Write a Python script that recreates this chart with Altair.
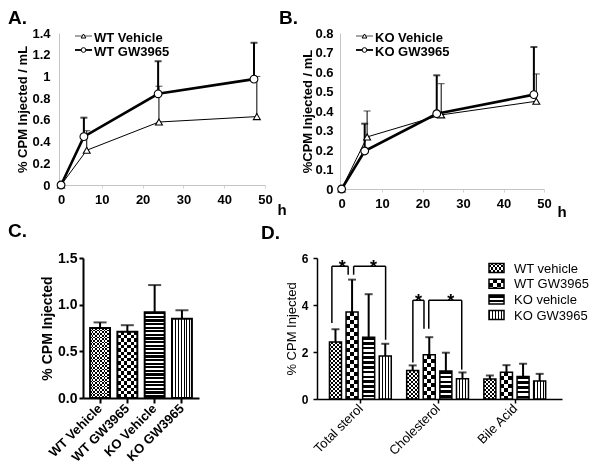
import json
import altair as alt
import pandas as pd

FONT = "Liberation Sans"

# ---------------- data ----------------
x_hours_ticks = [0, 10, 20, 30, 40, 50]

# Panel A (WT)
a_series = ["WT Vehicle", "WT GW3965"]
a_veh_time = [0, 6.3, 24.0, 48.0]
a_veh_mean = [0, 0.32, 0.58, 0.63]
a_veh_top = [0, 0.50, 0.91, 1.00]
a_gw_time = [0, 5.6, 23.8, 47.3]
a_gw_mean = [0, 0.445, 0.84, 0.975]
a_gw_top = [0, 0.62, 1.14, 1.31]
a_yticks = [0, 0.2, 0.4, 0.6, 0.8, 1.0, 1.2, 1.4]

# Panel B (KO)
b_series = ["KO Vehicle", "KO GW3965"]
b_veh_time = [0, 6.3, 24.6, 48.1]
b_veh_mean = [0, 0.267, 0.38, 0.45]
b_veh_top = [0, 0.40, 0.54, 0.59]
b_gw_time = [0, 5.7, 23.5, 47.5]
b_gw_mean = [0, 0.195, 0.386, 0.484]
b_gw_top = [0, 0.335, 0.583, 0.728]
b_yticks = [0, 0.1, 0.2, 0.3, 0.4, 0.5, 0.6, 0.7, 0.8]

# Panel C
c_groups = ["WT Vehicle", "WT GW3965", "KO Vehicle", "KO GW3965"]
c_mean = [0.75, 0.71, 0.92, 0.85]
c_top = [0.81, 0.78, 1.21, 0.94]
c_yticks = [0, 0.5, 1.0, 1.5]

# Panel D
d_categories = ["Total sterol", "Cholesterol", "Bile Acid"]
d_series = ["WT vehicle", "WT GW3965", "KO vehicle", "KO GW3965"]
d_total_mean = [2.43, 3.70, 2.63, 1.83]
d_total_top = [2.97, 5.08, 4.46, 2.35]
d_chol_mean = [1.21, 1.88, 1.19, 0.86]
d_chol_top = [1.43, 2.63, 1.97, 1.13]
d_bile_mean = [0.85, 1.14, 0.96, 0.77]
d_bile_top = [1.00, 1.44, 1.50, 1.07]
d_yticks = [0, 2, 4, 6]

# significance brackets in panel D (x in category units, y in % CPM)
br_x1 = [-0.369, -0.087, 0.680, 0.886]
br_x2 = [-0.158, 0.327, 0.824, 1.313]
br_top = [5.65, 5.65, 4.20, 4.20]
br_left_bottom = [3.23, 5.29, 1.55, 2.99]
br_right_bottom = [5.29, 2.52, 2.99, 1.25]
br_star_x = [-0.235, 0.17, 0.752, 1.17]
br_label = ["*", "*", "*", "*"]

panel_letters = ["A.", "B.", "C.", "D."]


# ---------------- helpers ----------------
def stripe_gradient(size_px, period_px, dark_frac, horizontal, dark="black", light="white"):
    p = period_px / max(size_px, 0.001)
    stops = []
    start = 0.0
    while start < 1.0 - 1e-9:
        mid = min(start + p * dark_frac, 1.0)
        end = min(start + p, 1.0)
        stops += [(start, dark), (mid, dark)]
        if mid < 1.0:
            stops += [(mid, light), (end, light)]
        start = end
    return alt.Gradient(
        gradient="linear",
        stops=[alt.GradientStop(offset=round(o, 5), color=c) for o, c in stops],
        x1=0, y1=0,
        x2=0 if horizontal else 1,
        y2=1 if horizontal else 0,
    )


def pattern_fills(w_px, h_px, spec):
    """Return list of (fill, blend) to stack for one bar."""
    kind = spec[0]
    if kind == "checker":
        cell = spec[1]
        base = stripe_gradient(w_px, 2 * cell, 0.5, False)
        over = stripe_gradient(h_px, 2 * cell, 0.5, True, dark="white", light="black")
        return [(base, None), (over, "difference")]
    if kind == "h":
        return [(stripe_gradient(h_px, spec[1], spec[2], True), None)]
    return [(stripe_gradient(w_px, spec[1], spec[2], False), None)]


def letter_layer(letter, dx, dy):
    return alt.Chart(pd.DataFrame({"letter": [letter]})).mark_text(
        align="left", baseline="alphabetic", font=FONT, fontSize=19,
        fontWeight="bold", color="black"
    ).encode(x=alt.value(dx), y=alt.value(dy), text="letter:N")


def line_panel(letters, series, times, means, tops, ymax, yticks, ytitle,
               width, height, xmin, ytitle_x, ylab_pad, h_x, h_y):
    rows = []
    for s, t, m, tp in zip(series, times, means, tops):
        for i in range(len(t)):
            rows.append({"series": s, "time": t[i], "mean": m[i], "top": tp[i]})
    df = pd.DataFrame(rows)

    xaxis = alt.Axis(values=x_hours_ticks, title="h", titleX=h_x, titleY=h_y,
                     titleAlign="left", titleBaseline="alphabetic", titleFontSize=15,
                     titleFontWeight="bold", labelFontSize=13, labelFontWeight="bold",
                     labelPadding=5, tickSize=3, tickColor="#d4d4d4",
                     domainColor="#c4c4c4", labelFlush=False, labelOverlap=False)
    yaxis = alt.Axis(values=yticks, format=".1~f", title=ytitle, titleX=ytitle_x,
                     titleY=height / 2, titleBaseline="middle", titleFontSize=13,
                     titleFontWeight="bold", labelFontSize=13, labelFontWeight="bold",
                     tickSize=0, labelPadding=ylab_pad, domainColor="#c4c4c4",
                     labelOverlap=False)
    xs = alt.Scale(domain=[xmin, 50], nice=False, zero=False)
    ys = alt.Scale(domain=[0, ymax], nice=False)
    X = alt.X("time:Q", scale=xs, axis=xaxis)
    Y = alt.Y("mean:Q", scale=ys, axis=yaxis)
    Ytop = alt.Y("top:Q", scale=ys, axis=yaxis)

    styles = {series[0]: dict(sw=1.0, shape="triangle-up", size=48, esw=1.0),
              series[1]: dict(sw=2.6, shape="circle", size=60, esw=2.0)}
    errs, lines, pts, legend = [], [], [], []
    base_all = alt.Chart(df)
    for k, s in enumerate(series):
        st = styles[s]
        b = base_all.transform_filter(alt.datum.series == s)
        be = b.transform_filter("datum.top > datum.mean")
        errs.append(be.mark_rule(color="black", strokeWidth=st["esw"]).encode(
            x=X, y=Y, y2=alt.Y2("top:Q")))
        errs.append(be.mark_tick(orient="horizontal", color="black", size=7,
                                 thickness=st["esw"]).encode(x=X, y=Ytop))
        lines.append(b.mark_line(color="black", strokeWidth=st["sw"]).encode(
            x=X, y=Y, order="time:Q"))
        pts.append(b.mark_point(shape=st["shape"], filled=True, fill="white",
                                stroke="black", strokeWidth=1.1, size=st["size"],
                                opacity=1).encode(x=X, y=Y))
        lg = alt.Chart(pd.DataFrame({"label": [s]}))
        yl = 3 + 14 * k
        legend.append(lg.mark_rule(color="black", strokeWidth=st["sw"] * 0.7).encode(
            x=alt.value(16), x2=alt.value(33), y=alt.value(yl)))
        legend.append(lg.mark_point(shape=st["shape"], filled=True, fill="white",
                                    stroke="black", strokeWidth=1, size=22,
                                    opacity=1).encode(x=alt.value(24.5), y=alt.value(yl)))
        legend.append(lg.mark_text(align="left", baseline="middle", font=FONT,
                                   fontSize=13, fontWeight="bold", color="black").encode(
            x=alt.value(35), y=alt.value(yl + 2), text="label:N"))
    letter_layers = [letter_layer(l, lx, -9.5) for l, lx in letters]
    layers = errs + lines + pts + legend + letter_layers
    return alt.layer(*layers).properties(width=width, height=height)


# ---------------- panels A & B ----------------
# the "B." letter of the right panel is placed next to the left panel's "h" label
pA = line_panel([("A.", -51), ("B.", 220)], a_series, [a_veh_time, a_gw_time],
                [a_veh_mean, a_gw_mean], [a_veh_top, a_gw_top], 1.4, a_yticks,
                "% CPM Injected / mL", 206, 152, -0.5, -37, 9, 218, 29)
pB = line_panel([], b_series, [b_veh_time, b_gw_time], [b_veh_mean, b_gw_mean],
                [b_veh_top, b_gw_top], 0.8, b_yticks, "%CPM Injected / mL",
                204, 156, -0.4, -33, 7, 217, 27)

# ---------------- panel C ----------------
# panel C's axes sit C_IN px inside its frame so that its frame lines up with panel A
C_IN, C_BARS_W, C_H, C_MAX = 24, 116, 140, 1.5
C_W = C_IN + C_BARS_W
cdf = pd.DataFrame({"group": c_groups, "mean": c_mean, "top": c_top})
c_patterns = {"WT Vehicle": ("checker", 1.7), "WT GW3965": ("checker", 3.3),
              "KO Vehicle": ("h", 3.6, 0.62), "KO GW3965": ("v", 2.9, 0.32)}
cxs = alt.Scale(domain=c_groups, range=[C_IN, C_W], paddingInner=0.27, paddingOuter=0.26)
cys = alt.Scale(domain=[0, C_MAX], nice=False)
cxaxis = alt.Axis(title=None, labelAngle=-45, labelAlign="right", labelBaseline="middle",
                  labelFontSize=13, labelFontWeight="bold", labelPadding=3, tickSize=5,
                  tickWidth=2, domainWidth=2, tickColor="black", domainColor="black")
cyaxis = alt.Axis(values=c_yticks, format=".1f", title="% CPM Injected", titleX=-36,
                  titleY=C_H / 2, titleBaseline="middle", titleFontSize=14,
                  titleFontWeight="bold", labelFontSize=14, labelFontWeight="bold",
                  tickSize=4, tickWidth=2, domainWidth=2, labelPadding=2,
                  tickColor="black", domainColor="black", offset=-C_IN)
CX = alt.X("group:N", scale=cxs, axis=cxaxis)
CY = alt.Y("mean:Q", scale=cys, axis=cyaxis)
CYtop = alt.Y("top:Q", scale=cys, axis=cyaxis)
c_layers = []
bw_c = C_BARS_W / (len(c_groups) - 0.27 + 2 * 0.26) * (1 - 0.27)
for g, v in zip(c_groups, c_mean):
    hpx = v / C_MAX * C_H
    bsel = alt.Chart(cdf).transform_filter(alt.datum.group == g)
    for fill, blend in pattern_fills(bw_c, hpx, c_patterns[g]):
        kw = dict(fill=fill, strokeWidth=0)
        if blend:
            kw["blend"] = blend
        c_layers.append(bsel.mark_bar(**kw).encode(x=CX, y=CY))
c_layers.append(alt.Chart(cdf).mark_bar(filled=False, stroke="black", strokeWidth=2)
                .encode(x=CX, y=CY))
c_layers.append(alt.Chart(cdf).mark_rule(color="black", strokeWidth=2)
                .encode(x=CX, y=CY, y2=alt.Y2("top:Q")))
c_layers.append(alt.Chart(cdf).mark_tick(orient="horizontal", color="black", size=13,
                                         thickness=2).encode(x=CX, y=CYtop))
c_layers.append(letter_layer("C.", -75 + C_IN, -21))
pC = alt.layer(*c_layers).properties(width=C_W, height=C_H)

# ---------------- panel D ----------------
D_W, D_H, D_MAX = 245, 141, 6.0
d_offsets = [-0.3225, -0.1075, 0.1075, 0.3225]
rows = []
for ci, (cat, means, tops) in enumerate(zip(
        d_categories, [d_total_mean, d_chol_mean, d_bile_mean],
        [d_total_top, d_chol_top, d_bile_top])):
    for si, s in enumerate(d_series):
        rows.append({"id": ci * 4 + si, "category": cat, "series": s,
                     "mean": means[si], "top": tops[si], "pos": ci + d_offsets[si]})
ddf = pd.DataFrame(rows)
d_patterns = {"WT vehicle": ("checker", 2.0), "WT GW3965": ("checker", 4.0),
              "KO vehicle": ("h", 4.8, 0.55), "KO GW3965": ("v", 3.0, 0.33)}
dxs = alt.Scale(domain=[-0.497, 2.547], nice=False, zero=False)
dys = alt.Scale(domain=[0, D_MAX], nice=False)
label_expr = json.dumps(d_categories) + "[round(datum.value)]"
dxaxis = alt.Axis(values=[0, 1, 2], labelExpr=label_expr, title=None, labelAngle=-45,
                  labelAlign="right", labelBaseline="middle", labelFontSize=13,
                  labelPadding=3, tickSize=4, tickWidth=1.5, domainWidth=1.5,
                  tickColor="black", domainColor="black", labelFlush=False,
                  labelOverlap=False)
dyaxis = alt.Axis(values=d_yticks, format="d", title="% CPM Injected", titleX=-26,
                  titleY=D_H / 2, titleBaseline="middle", titleFontSize=13,
                  titleFontWeight="normal", labelFontSize=12, labelFontWeight="bold",
                  tickSize=4, tickWidth=1.5, domainWidth=1.5, labelPadding=5,
                  tickColor="black", domainColor="black")
DX = alt.X("pos:Q", scale=dxs, axis=dxaxis)
DY = alt.Y("mean:Q", scale=dys, axis=dyaxis, stack=None)
DYtop = alt.Y("top:Q", scale=dys, axis=dyaxis)
d_layers = []
for _, r in ddf.iterrows():
    hpx = r["mean"] / D_MAX * D_H
    bsel = alt.Chart(ddf).transform_filter(alt.datum.id == int(r["id"]))
    for fill, blend in pattern_fills(12, hpx, d_patterns[r["series"]]):
        kw = dict(fill=fill, strokeWidth=0, size=12, orient="vertical")
        if blend:
            kw["blend"] = blend
        d_layers.append(bsel.mark_bar(**kw).encode(x=DX, y=DY))
d_layers.append(alt.Chart(ddf).mark_bar(filled=False, stroke="black", strokeWidth=1.5,
                                        size=12, orient="vertical").encode(x=DX, y=DY))
d_layers.append(alt.Chart(ddf).mark_rule(color="black", strokeWidth=2)
                .encode(x=DX, y=DY, y2=alt.Y2("top:Q")))
d_layers.append(alt.Chart(ddf).mark_tick(orient="horizontal", color="black", size=8,
                                         thickness=2).encode(x=DX, y=DYtop))
bdf = pd.DataFrame({"x1": br_x1, "x2": br_x2, "top": br_top, "lb": br_left_bottom,
                    "rb": br_right_bottom, "sx": br_star_x, "lab": br_label})
bch = alt.Chart(bdf)
d_layers.append(bch.mark_rule(color="black", strokeWidth=1.5).encode(
    x=alt.X("x1:Q", scale=dxs, axis=dxaxis), y=alt.Y("lb:Q", scale=dys, axis=dyaxis),
    y2=alt.Y2("top:Q")))
d_layers.append(bch.mark_rule(color="black", strokeWidth=1.5).encode(
    x=alt.X("x2:Q", scale=dxs, axis=dxaxis), y=alt.Y("rb:Q", scale=dys, axis=dyaxis),
    y2=alt.Y2("top:Q")))
d_layers.append(bch.mark_rule(color="black", strokeWidth=1.5).encode(
    x=alt.X("x1:Q", scale=dxs, axis=dxaxis), x2=alt.X2("x2:Q"),
    y=alt.Y("top:Q", scale=dys, axis=dyaxis)))
d_layers.append(bch.mark_text(font=FONT, fontSize=18, fontWeight="bold", color="black",
                              baseline="middle", dy=2).encode(
    x=alt.X("sx:Q", scale=dxs, axis=dxaxis), y=alt.Y("top:Q", scale=dys, axis=dyaxis),
    text="lab:N"))
# legend of panel D
for k, s in enumerate(d_series):
    yc = 10 + 15.7 * k
    lg = alt.Chart(pd.DataFrame({"label": [s]}))
    for fill, blend in pattern_fills(15, 9, d_patterns[s]):
        kw = dict(fill=fill, strokeWidth=0)
        if blend:
            kw["blend"] = blend
        d_layers.append(lg.mark_rect(**kw).encode(
            x=alt.value(172), x2=alt.value(187), y=alt.value(yc - 4.5),
            y2=alt.value(yc + 4.5)))
    d_layers.append(lg.mark_rect(filled=False, stroke="black", strokeWidth=1.5).encode(
        x=alt.value(172), x2=alt.value(187), y=alt.value(yc - 4.5), y2=alt.value(yc + 4.5)))
    d_layers.append(lg.mark_text(align="left", baseline="middle", font=FONT, fontSize=13,
                                 color="black").encode(
        x=alt.value(197), y=alt.value(yc + 0.5), text="label:N"))
d_layers.append(letter_layer("D.", -56, -19))
pD = alt.layer(*d_layers).properties(width=D_W, height=D_H)

top = alt.hconcat(pA, pB, spacing=3)
bottom = alt.hconcat(pC, pD, spacing=62)
chart = (
    alt.vconcat(top, bottom, spacing=3)
    .properties(padding={"left": 0, "top": 0, "right": 0, "bottom": 0})
    .configure_view(stroke=None)
    .configure_axis(grid=False, labelFont=FONT, titleFont=FONT, labelColor="black",
                    titleColor="black")
)
chart.save("out.html", embed_options={"renderer": "svg", "actions": False})
